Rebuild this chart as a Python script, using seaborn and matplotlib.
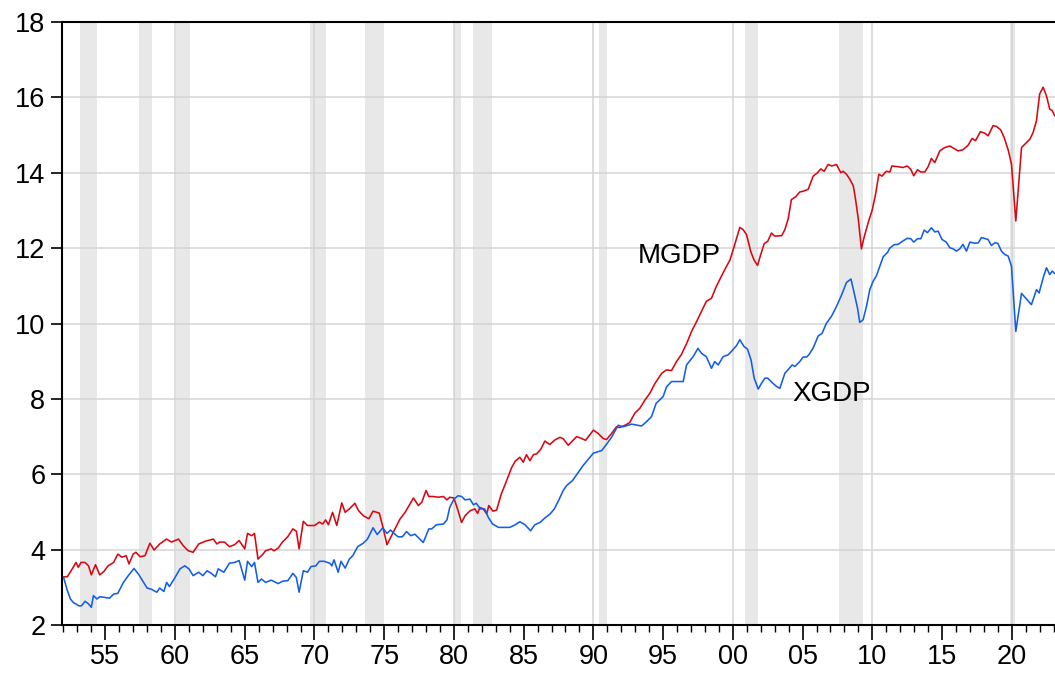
import numpy as np
import pandas as pd
import matplotlib
matplotlib.use("Agg")
import matplotlib.pyplot as plt
import seaborn as sns

# ==========================================
# data (decimal year, ratio to GDP in %)
# ==========================================
mgdp_years = [
    1952.0, 1952.28, 1952.7, 1952.9, 1953.07, 1953.26, 1953.55, 1953.8, 1954.0, 1954.3,
    1954.6, 1954.9, 1955.2, 1955.6, 1955.9, 1956.2, 1956.5, 1956.7, 1957.0, 1957.2,
    1957.5, 1957.85, 1958.2, 1958.5, 1958.9, 1959.4, 1959.75, 1960.25, 1960.6, 1960.95,
    1961.3, 1961.7, 1962.15, 1962.75, 1963.0, 1963.2, 1963.55, 1963.9, 1964.27, 1964.6,
    1965.0, 1965.2, 1965.5, 1965.7, 1965.95, 1966.3, 1966.5, 1966.9, 1967.1, 1967.4,
    1967.7, 1968.1, 1968.45, 1968.7, 1968.9, 1969.2, 1969.5, 1970.0, 1970.35, 1970.6,
    1970.8, 1971.0, 1971.3, 1971.6, 1971.96, 1972.2, 1972.5, 1972.9, 1973.15, 1973.5,
    1973.9, 1974.2, 1974.65, 1974.9, 1975.2, 1975.5, 1975.77, 1976.13, 1976.5, 1976.85,
    1977.1, 1977.45, 1977.7, 1978.0, 1978.2, 1978.5, 1978.9, 1979.25, 1979.5, 1979.7,
    1980.0, 1980.3, 1980.55, 1980.8, 1981.15, 1981.5, 1981.7, 1981.86, 1982.1, 1982.35,
    1982.5, 1982.8, 1983.06, 1983.4, 1983.78, 1984.13, 1984.4, 1984.73, 1984.97, 1985.2,
    1985.45, 1985.7, 1985.93, 1986.24, 1986.52, 1986.88, 1987.24, 1987.6, 1987.84, 1988.2,
    1988.8, 1989.15, 1989.44, 1990.0, 1990.35, 1990.7, 1990.94, 1991.3, 1991.66, 1991.9,
    1992.26, 1992.6, 1992.97, 1993.33, 1993.7, 1994.05, 1994.4, 1994.9, 1995.25, 1995.6,
    1995.96, 1996.3, 1996.7, 1997.04, 1997.4, 1997.75, 1998.1, 1998.47, 1998.8, 1999.2,
    1999.55, 1999.8, 2000.14, 2000.5, 2000.74, 2000.98, 2001.3, 2001.53, 2001.77, 2002.0,
    2002.25, 2002.5, 2002.77, 2003.0, 2003.5, 2003.73, 2003.97, 2004.2, 2004.5, 2004.8,
    2005.04, 2005.4, 2005.76, 2006.07, 2006.3, 2006.55, 2006.83, 2007.1, 2007.43, 2007.74,
    2007.9, 2008.15, 2008.4, 2008.64, 2008.8, 2009.0, 2009.22, 2009.4, 2009.7, 2010.0,
    2010.23, 2010.47, 2010.7, 2011.0, 2011.26, 2011.4, 2011.85, 2012.2, 2012.5, 2012.76,
    2012.97, 2013.24, 2013.48, 2013.76, 2014.0, 2014.24, 2014.48, 2014.84, 2015.2, 2015.56,
    2015.87, 2016.15, 2016.5, 2016.87, 2017.16, 2017.4, 2017.75, 2018.06, 2018.3, 2018.66,
    2018.9, 2019.2, 2019.45, 2019.74, 2019.98, 2020.29, 2020.7, 2021.05, 2021.3, 2021.53,
    2021.77, 2022.0, 2022.25, 2022.49, 2022.72, 2022.9, 2023.08,
]
mgdp_vals = [
    3.28, 3.28, 3.53, 3.66, 3.53, 3.66, 3.66, 3.57, 3.33, 3.60,
    3.33, 3.42, 3.57, 3.66, 3.88, 3.80, 3.84, 3.62, 3.88, 3.93,
    3.81, 3.84, 4.17, 3.99, 4.15, 4.28, 4.20, 4.28, 4.10, 3.97,
    3.93, 4.15, 4.22, 4.28, 4.15, 4.20, 4.20, 4.08, 4.13, 4.24,
    4.02, 4.43, 4.37, 4.43, 3.75, 3.88, 3.97, 4.02, 3.97, 4.04,
    4.20, 4.35, 4.55, 4.49, 4.02, 4.75, 4.64, 4.64, 4.73, 4.68,
    4.79, 4.66, 4.99, 4.64, 5.24, 4.99, 5.08, 5.23, 5.04, 4.90,
    4.82, 5.02, 4.97, 4.61, 4.13, 4.35, 4.55, 4.81, 4.99, 5.21,
    5.37, 5.17, 5.26, 5.57, 5.41, 5.41, 5.39, 5.41, 5.32, 5.39,
    5.37, 5.03, 4.72, 4.90, 5.03, 5.08, 4.96, 5.12, 5.08, 4.95,
    5.17, 5.02, 5.05, 5.48, 5.83, 6.17, 6.35, 6.45, 6.32, 6.52,
    6.36, 6.52, 6.54, 6.67, 6.88, 6.79, 6.91, 6.98, 6.94, 6.77,
    7.00, 6.95, 6.90, 7.17, 7.08, 6.95, 6.92, 7.08, 7.26, 7.24,
    7.30, 7.37, 7.62, 7.75, 7.97, 8.15, 8.40, 8.68, 8.77, 8.75,
    8.99, 9.17, 9.48, 9.79, 10.05, 10.32, 10.59, 10.67, 10.97, 11.27,
    11.52, 11.69, 12.10, 12.55, 12.49, 12.36, 11.89, 11.68, 11.54, 11.83,
    12.12, 12.18, 12.40, 12.32, 12.33, 12.49, 12.78, 13.29, 13.36, 13.49,
    13.51, 13.56, 13.91, 14.00, 14.10, 14.04, 14.22, 14.18, 14.22, 14.00,
    14.04, 13.96, 13.82, 13.65, 13.29, 12.76, 11.98, 12.27, 12.67, 13.02,
    13.42, 13.96, 13.91, 14.04, 14.02, 14.18, 14.16, 14.14, 14.18, 14.09,
    13.92, 14.08, 14.02, 14.02, 14.16, 14.38, 14.27, 14.58, 14.67, 14.71,
    14.64, 14.58, 14.61, 14.73, 14.91, 14.85, 15.09, 15.05, 14.98, 15.25,
    15.23, 15.14, 14.94, 14.61, 14.23, 12.72, 14.67, 14.80, 14.89, 15.07,
    15.38, 16.09, 16.27, 16.04, 15.69, 15.65, 15.51,
]

xgdp_years = [
    1952.0, 1952.25, 1952.5, 1952.7, 1953.1, 1953.3, 1953.55, 1953.8, 1954.0, 1954.15,
    1954.4, 1954.6, 1955.0, 1955.3, 1955.6, 1955.9, 1956.3, 1956.65, 1957.06, 1957.4,
    1957.75, 1958.0, 1958.3, 1958.7, 1958.9, 1959.2, 1959.4, 1959.6, 1960.0, 1960.36,
    1960.7, 1961.0, 1961.3, 1961.7, 1962.0, 1962.3, 1962.6, 1962.9, 1963.1, 1963.5,
    1963.9, 1964.27, 1964.6, 1965.0, 1965.2, 1965.5, 1965.7, 1965.95, 1966.2, 1966.5,
    1966.9, 1967.4, 1967.7, 1968.1, 1968.45, 1968.7, 1968.9, 1969.2, 1969.5, 1969.75,
    1970.1, 1970.35, 1970.7, 1971.1, 1971.25, 1971.4, 1971.7, 1971.9, 1972.2, 1972.5,
    1972.75, 1973.1, 1973.5, 1973.8, 1974.2, 1974.5, 1974.9, 1975.2, 1975.45, 1975.8,
    1976.0, 1976.3, 1976.6, 1976.9, 1977.2, 1977.45, 1977.8, 1978.2, 1978.4, 1978.75,
    1979.25, 1979.5, 1979.7, 1980.0, 1980.3, 1980.55, 1980.8, 1981.15, 1981.4, 1981.6,
    1981.9, 1982.2, 1982.46, 1982.77, 1983.2, 1983.65, 1984.0, 1984.4, 1984.73, 1985.1,
    1985.5, 1985.8, 1986.17, 1986.52, 1986.88, 1987.2, 1987.5, 1987.84, 1988.08, 1988.5,
    1989.26, 1990.0, 1990.6, 1990.93, 1991.3, 1991.78, 1992.14, 1992.74, 1993.45, 1993.8,
    1994.17, 1994.5, 1995.0, 1995.25, 1995.6, 1996.08, 1996.44, 1996.68, 1997.15, 1997.5,
    1997.75, 1998.1, 1998.47, 1998.7, 1998.95, 1999.3, 1999.67, 1999.9, 2000.26, 2000.5,
    2000.8, 2001.05, 2001.3, 2001.53, 2001.82, 2002.05, 2002.3, 2002.5, 2002.82, 2003.13,
    2003.37, 2003.73, 2004.0, 2004.25, 2004.45, 2004.8, 2005.04, 2005.28, 2005.45, 2005.76,
    2006.12, 2006.4, 2006.7, 2007.07, 2007.43, 2007.8, 2008.15, 2008.47, 2008.7, 2008.94,
    2009.1, 2009.34, 2009.58, 2009.82, 2010.06, 2010.3, 2010.54, 2010.78, 2011.1, 2011.25,
    2011.56, 2011.85, 2012.2, 2012.5, 2012.76, 2012.97, 2013.24, 2013.48, 2013.72, 2013.95,
    2014.24, 2014.48, 2014.72, 2015.0, 2015.3, 2015.56, 2015.8, 2016.03, 2016.27, 2016.5,
    2016.75, 2017.0, 2017.35, 2017.6, 2017.83, 2018.1, 2018.3, 2018.54, 2018.78, 2019.0,
    2019.26, 2019.5, 2019.74, 2019.98, 2020.29, 2020.7, 2021.05, 2021.41, 2021.77, 2021.96,
    2022.25, 2022.49, 2022.72, 2022.9, 2023.08,
]
xgdp_vals = [
    3.28, 2.95, 2.69, 2.60, 2.51, 2.51, 2.63, 2.56, 2.47, 2.78,
    2.69, 2.75, 2.73, 2.71, 2.82, 2.84, 3.13, 3.31, 3.50, 3.34,
    3.13, 2.98, 2.95, 2.87, 2.98, 2.89, 3.13, 3.02, 3.26, 3.49,
    3.57, 3.49, 3.31, 3.40, 3.31, 3.44, 3.37, 3.28, 3.49, 3.40,
    3.64, 3.66, 3.71, 3.19, 3.69, 3.55, 3.66, 3.13, 3.22, 3.13,
    3.19, 3.10, 3.16, 3.18, 3.37, 3.26, 2.87, 3.44, 3.40, 3.55,
    3.57, 3.69, 3.69, 3.64, 3.57, 3.73, 3.40, 3.69, 3.51, 3.75,
    3.84, 4.08, 4.17, 4.28, 4.58, 4.40, 4.58, 4.43, 4.52, 4.40,
    4.34, 4.34, 4.48, 4.37, 4.41, 4.32, 4.19, 4.55, 4.55, 4.66,
    4.68, 4.79, 5.12, 5.34, 5.43, 5.41, 5.32, 5.34, 5.19, 5.23,
    5.08, 5.08, 4.86, 4.68, 4.59, 4.59, 4.59, 4.66, 4.74, 4.66,
    4.50, 4.66, 4.72, 4.84, 4.94, 5.08, 5.30, 5.57, 5.70, 5.83,
    6.23, 6.56, 6.63, 6.79, 6.98, 7.30, 7.26, 7.33, 7.28, 7.39,
    7.53, 7.88, 8.06, 8.32, 8.46, 8.46, 8.46, 8.90, 9.12, 9.34,
    9.21, 9.12, 8.81, 8.99, 8.90, 9.12, 9.17, 9.26, 9.41, 9.57,
    9.39, 9.32, 9.04, 8.55, 8.26, 8.41, 8.55, 8.55, 8.43, 8.33,
    8.28, 8.68, 8.79, 8.90, 8.86, 8.99, 9.11, 9.11, 9.17, 9.35,
    9.67, 9.74, 10.00, 10.19, 10.45, 10.76, 11.09, 11.18, 10.81, 10.41,
    10.03, 10.10, 10.45, 10.90, 11.12, 11.27, 11.52, 11.77, 11.89, 12.00,
    12.09, 12.10, 12.19, 12.26, 12.25, 12.16, 12.25, 12.25, 12.48, 12.41,
    12.54, 12.43, 12.45, 12.23, 12.16, 12.01, 11.98, 11.92, 11.98, 12.10,
    11.92, 12.16, 12.13, 12.14, 12.28, 12.25, 12.23, 12.07, 12.14, 12.13,
    11.92, 11.83, 11.79, 11.52, 9.79, 10.80, 10.65, 10.50, 10.90, 10.81,
    11.21, 11.48, 11.30, 11.39, 11.33,
]

# recession periods (peak, trough) as read from the shading
rec_start = [1953.2, 1957.4, 1960.1, 1969.7, 1973.6, 1980.0, 1981.4, 1990.4, 2000.9, 2007.6, 2019.85]
rec_end = [1954.4, 1958.35, 1961.1, 1970.8, 1975.0, 1980.5, 1982.75, 1991.0, 2001.8, 2009.3, 2020.25]

df = pd.concat([
    pd.DataFrame({"year": mgdp_years, "value": mgdp_vals, "series": "MGDP"}),
    pd.DataFrame({"year": xgdp_years, "value": xgdp_vals, "series": "XGDP"}),
])

# ==========================================
# plot
# ==========================================
sns.set_style("white")
plt.rcParams["font.family"] = ["Liberation Sans", "DejaVu Sans"]
plt.rcParams["text.color"] = "black"
plt.rcParams["xtick.color"] = "black"
plt.rcParams["ytick.color"] = "black"

fig = plt.figure(figsize=(10.55, 6.77), dpi=100)
ax = fig.add_axes([0.0588, 0.0768, 0.9412, 0.8907])

for s, e in zip(rec_start, rec_end):
    ax.axvspan(s, e, color="#e8e8e8", lw=0, zorder=0.2)

sns.lineplot(data=df, x="year", y="value", hue="series",
             palette={"MGDP": "#d80812", "XGDP": "#135ee6"},
             linewidth=1.15, legend=False, ax=ax, zorder=3, estimator=None, sort=False)

ax.set_xlim(1951.9, 2023.1)
ax.set_ylim(2, 18)
ax.set_yticks(np.arange(2, 19, 2))
major = list(range(1955, 2021, 5))
ax.set_xticks(major)
ax.set_xticklabels([f"{y % 100:02d}" for y in major])
ax.set_xticks(list(range(1952, 2024)), minor=True)

ax.set_axisbelow(True)
ax.yaxis.grid(True, color="#d4d4d4", linewidth=1.1)
for yr in range(1960, 2021, 10):
    ax.axvline(yr, color="#d4d4d4", linewidth=1.1, zorder=0.5)

for side in ["left", "top", "bottom"]:
    ax.spines[side].set_color("black")
    ax.spines[side].set_linewidth(1.5)
ax.spines["right"].set_visible(False)

ax.tick_params(axis="y", which="major", direction="out", length=8, width=1.2,
               labelsize=19.5, labelcolor="black", pad=4, left=True)
ax.tick_params(axis="x", which="major", direction="out", length=11, width=1.2,
               labelsize=19.5, labelcolor="black", pad=3, bottom=True)
ax.tick_params(axis="x", which="minor", direction="out", length=5, width=1.0, bottom=True)
ax.set_xlabel("")
ax.set_ylabel("")

ax.text(1993.2, 11.78, "MGDP", fontsize=20, color="black", ha="left", va="center", zorder=4)
ax.text(2004.3, 8.13, "XGDP", fontsize=20, color="black", ha="left", va="center", zorder=4)

plt.savefig("out.png", dpi=100)
